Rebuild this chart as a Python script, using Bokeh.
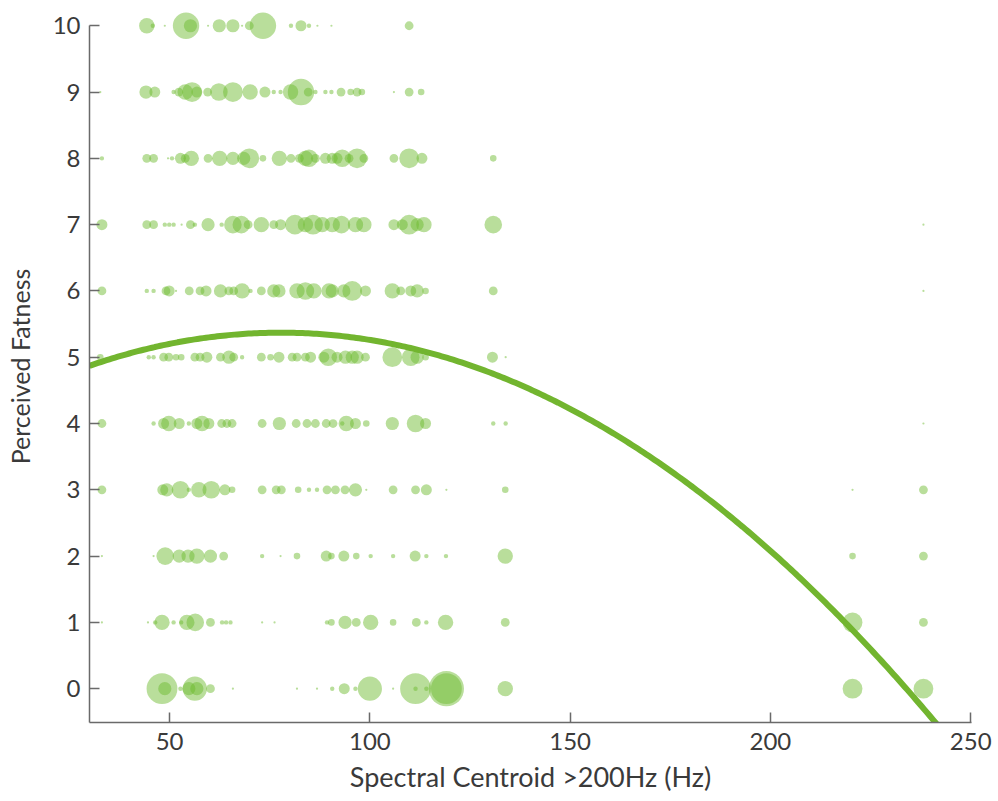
from bokeh.plotting import figure
from bokeh.models import Range1d, FixedTicker, ColumnDataSource
from bokeh.embed import file_html
from bokeh.resources import INLINE
import numpy as np

# Responses per (spectral centroid, fatness rating); n = number of responses
x10 = [44.3, 45.8, 48.8, 54.1, 55.2, 59.6, 62.4, 65.8, 68.1, 69.9, 73.3, 80.3, 82.8, 84.8, 86.9, 90.4, 109.8]
n10 = [7, 2, 1, 12, 6, 1, 6, 6, 1, 4, 12, 2, 5, 2, 1, 1, 4]

x9 = [32.7, 44.1, 46.3, 51.0, 52.3, 53.9, 55.6, 56.8, 59.5, 62.3, 65.8, 70.1, 73.8, 76.0, 77.7, 80.2, 82.8,
      84.6, 86.4, 88.9, 90.4, 92.8, 95.2, 96.8, 98.0, 106.0, 109.8, 112.8]
n9 = [1, 6, 5, 2, 4, 7, 9, 5, 4, 8, 9, 7, 5, 2, 2, 7, 12, 4, 2, 2, 2, 4, 3, 4, 3, 1, 4, 3]

x8 = [33.1, 44.3, 46.0, 49.6, 50.6, 52.7, 53.9, 55.4, 59.6, 62.5, 65.8, 68.5, 69.9, 73.3, 77.4, 80.3, 82.4,
      83.9, 84.8, 86.4, 88.9, 90.6, 91.8, 93.1, 94.8, 96.8, 98.5, 106.0, 109.8, 113.0, 130.8]
n8 = [2, 4, 4, 1, 2, 5, 4, 7, 4, 7, 6, 6, 9, 3, 7, 4, 4, 7, 8, 4, 5, 5, 5, 8, 4, 9, 4, 4, 9, 5, 3]

x7 = [33.1, 44.3, 46.0, 48.8, 49.9, 51.0, 53.0, 55.2, 56.3, 59.6, 63.0, 65.8, 67.9, 69.6, 72.9, 76.0, 77.7,
      81.3, 83.9, 85.8, 88.1, 90.6, 92.9, 96.4, 98.5, 106.0, 108.1, 109.8, 111.8, 113.5, 130.8, 238.2]
n7 = [5, 4, 4, 2, 2, 2, 1, 4, 2, 6, 2, 8, 8, 4, 7, 4, 5, 9, 7, 9, 7, 7, 8, 7, 7, 5, 5, 9, 6, 7, 8, 1]

x6 = [33.1, 44.3, 46.0, 49.1, 49.9, 51.6, 54.9, 57.6, 59.1, 62.7, 64.8, 66.0, 68.1, 70.2, 72.9, 76.0, 77.3,
      81.8, 83.9, 86.0, 89.8, 90.6, 93.5, 95.6, 98.9, 105.6, 107.7, 110.2, 111.8, 113.9, 130.8, 238.2]
n6 = [4, 2, 2, 4, 5, 1, 4, 4, 5, 6, 4, 4, 7, 2, 4, 6, 6, 7, 8, 7, 7, 6, 6, 9, 5, 7, 4, 5, 6, 3, 4, 1]

x5 = [32.7, 44.8, 46.0, 48.5, 49.8, 51.6, 52.9, 56.3, 57.6, 59.3, 62.7, 64.8, 66.0, 68.1, 72.9, 75.2, 77.3,
      80.6, 81.8, 83.9, 85.2, 88.5, 89.6, 91.8, 93.9, 95.6, 96.8, 98.9, 105.6, 110.2, 111.8, 113.9, 130.6, 133.9]
n5 = [3, 2, 2, 4, 4, 3, 3, 4, 4, 5, 4, 6, 4, 2, 4, 3, 5, 4, 4, 4, 5, 5, 8, 5, 6, 6, 6, 4, 9, 8, 6, 3, 5, 1]

x4 = [33.1, 46.0, 48.5, 49.8, 52.4, 54.8, 56.8, 58.1, 59.8, 63.0, 64.3, 65.6, 73.1, 77.4, 81.6, 84.3, 86.4,
      89.1, 90.8, 93.1, 94.1, 96.4, 99.1, 105.6, 111.4, 113.9, 130.8, 133.9, 238.2]
n4 = [4, 2, 5, 7, 5, 2, 5, 7, 5, 4, 4, 4, 4, 6, 4, 4, 4, 4, 4, 2, 7, 5, 3, 6, 8, 5, 2, 2, 1]

x3 = [33.1, 48.3, 49.3, 52.7, 54.8, 57.3, 60.4, 63.8, 65.6, 73.1, 76.6, 77.9, 82.1, 84.8, 86.8, 89.3, 91.4,
      93.8, 96.4, 99.1, 105.8, 111.4, 114.1, 119.1, 133.8, 220.5, 238.2]
n3 = [4, 5, 6, 8, 2, 7, 8, 5, 3, 4, 4, 4, 3, 2, 2, 4, 4, 4, 6, 1, 4, 4, 5, 1, 3, 1, 4]

x2 = [33.1, 46.0, 48.9, 52.4, 54.6, 56.8, 60.2, 63.5, 73.1, 77.7, 81.8, 89.1, 90.4, 93.5, 96.6, 100.2, 105.8,
      111.3, 114.1, 119.0, 133.8, 220.5, 238.2]
n2 = [1, 1, 8, 6, 6, 7, 6, 4, 2, 1, 3, 5, 3, 5, 3, 2, 2, 5, 2, 2, 7, 3, 4]

x1 = [33.1, 44.6, 46.4, 48.1, 51.0, 52.9, 54.3, 56.4, 60.2, 63.1, 64.1, 65.2, 73.1, 76.2, 89.3, 90.4, 93.8,
      96.6, 100.2, 105.8, 111.6, 114.1, 118.9, 133.8, 220.5, 238.2]
n1 = [1, 1, 2, 7, 2, 2, 7, 8, 4, 2, 2, 2, 1, 1, 2, 3, 6, 4, 7, 3, 4, 2, 7, 4, 9, 4]

x0 = [48.1, 48.8, 52.7, 54.8, 56.3, 56.8, 60.2, 65.8, 81.8, 86.8, 90.6, 93.6, 96.4, 100.0, 105.8, 111.4, 111.4,
      114.1, 119.1, 119.1, 133.8, 220.5, 238.2]
n0 = [14, 6, 2, 6, 11, 6, 4, 1, 1, 1, 2, 5, 2, 11, 1, 14, 2, 2, 16, 14, 7, 9, 9]

ratings = [0, 1, 2, 3, 4, 5, 6, 7, 8, 9, 10]
centroids = [x0, x1, x2, x3, x4, x5, x6, x7, x8, x9, x10]
counts = [n0, n1, n2, n3, n4, n5, n6, n7, n8, n9, n10]

# quadratic fit: fatness = c2*x^2 + c1*x + c0
fit_coeffs = [-0.00022, 0.034188, 4.042]
fit_x_range = [30.0, 242.0]

x_ticks = [50, 100, 150, 200, 250]
y_ticks = ratings

GREEN = "#72b52f"
BUBBLE = "#6cb92d"
TEXT = "#3a3a3a"
FONT = "Lato"
PX_PER_RESPONSE = 2.2

xs, ys, sz = [], [], []
for r, cx, cn in zip(ratings, centroids, counts):
    xs += cx
    ys += [r] * len(cx)
    sz += [PX_PER_RESPONSE * n for n in cn]

src = ColumnDataSource(dict(x=xs, y=ys, size=sz))

p = figure(width=998, height=801, output_backend="svg", toolbar_location=None,
           x_range=Range1d(30, 250.2), y_range=Range1d(-0.51, 10.23),
           min_border_left=89, min_border_right=27, min_border_top=10, min_border_bottom=79)
p.outline_line_color = None
p.xgrid.visible = False
p.ygrid.visible = False
p.background_fill_color = "white"
p.border_fill_color = "white"

p.scatter("x", "y", size="size", source=src, fill_color=BUBBLE, fill_alpha=0.48, line_color=None)

fx = np.linspace(fit_x_range[0], fit_x_range[1], 300)
fy = np.polyval(fit_coeffs, fx)
p.line(fx, fy, line_color=GREEN, line_width=6)

for ax in (p.xaxis[0], p.yaxis[0]):
    ax.axis_line_color = "#6a6a6a"
    ax.axis_line_width = 1.5
    ax.major_tick_line_color = "#6a6a6a"
    ax.major_tick_line_width = 1.5
    ax.major_tick_in = 10
    ax.major_tick_out = 0
    ax.minor_tick_line_color = None
    ax.major_label_text_font = FONT
    ax.major_label_text_font_size = "24px"
    ax.major_label_text_color = TEXT
    ax.axis_label_text_font = FONT
    ax.axis_label_text_color = TEXT
    ax.axis_label_text_font_style = "normal"

p.xaxis.axis_label_text_font_size = "27px"
p.yaxis.axis_label_text_font_size = "25px"
p.xaxis.ticker = FixedTicker(ticks=x_ticks)
p.yaxis.ticker = FixedTicker(ticks=y_ticks)
p.yaxis.bounds = (-0.51, 10)
p.xaxis.axis_label = "Spectral Centroid >200Hz (Hz)"
p.yaxis.axis_label = "Perceived Fatness"
p.xaxis.major_label_standoff = 10
p.yaxis.major_label_standoff = 9
p.xaxis.axis_label_standoff = 7
p.yaxis.axis_label_standoff = 15

open("out.html", "w").write(file_html(p, INLINE))
